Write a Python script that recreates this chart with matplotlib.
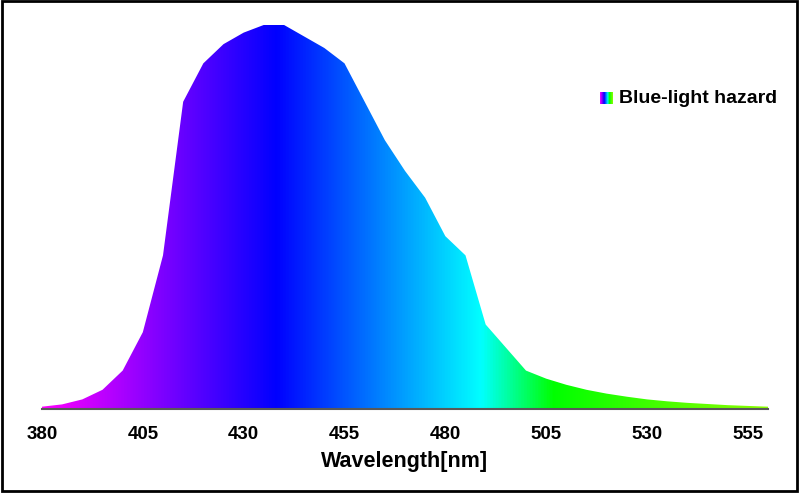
import numpy as np
import matplotlib.pyplot as plt
from matplotlib.colors import LinearSegmentedColormap
from matplotlib.patches import Rectangle

plt.rcParams['font.family'] = ['Liberation Sans', 'DejaVu Sans']

# blue-light hazard weighting B(lambda)
wavelength = [380, 385, 390, 395, 400, 405, 410, 415, 420, 425, 430, 435, 440,
              445, 450, 455, 460, 465, 470, 475, 480, 485, 490, 495, 500, 505,
              510, 515, 520, 525, 530, 535, 540, 545, 550, 555, 560]
hazard = [0.006, 0.012, 0.025, 0.05, 0.10, 0.20, 0.40, 0.80, 0.90, 0.95, 0.98,
          1.00, 1.00, 0.97, 0.94, 0.90, 0.80, 0.70, 0.62, 0.55, 0.45, 0.40,
          0.22, 0.16, 0.10, 0.079, 0.063, 0.050, 0.040, 0.032, 0.025, 0.020,
          0.016, 0.013, 0.010, 0.008, 0.006]
tick_labels = [380, 405, 430, 455, 480, 505, 530, 555]

# spectrum colours along the wavelength axis
spec = LinearSegmentedColormap.from_list('spec', [
    (0.0, (1.0, 0.0, 1.0)),
    ((438 - 380) / 180, (0.0, 0.0, 1.0)),
    ((489 - 380) / 180, (0.0, 1.0, 1.0)),
    ((507 - 380) / 180, (0.0, 1.0, 0.0)),
    (1.0, (0.55, 1.0, 0.0)),
])

fig = plt.figure(figsize=(8, 4.93), dpi=100)
ax = fig.add_axes([0.0525, 0.1704, 0.9075, 0.779])

xmin, xmax = wavelength[0], wavelength[-1]
poly = ax.fill_between(wavelength, hazard, 0, color='none', lw=0)
grad = np.linspace(0, 1, 512).reshape(1, -1)
im = ax.imshow(grad, cmap=spec, aspect='auto', extent=[xmin, xmax, 0, 1],
               origin='lower', interpolation='bilinear')
im.set_clip_path(poly.get_paths()[0], transform=ax.transData)

ax.set_xlim(xmin, xmax)
ax.set_ylim(0, 1)
ax.set_yticks([])
ax.set_xticks(tick_labels)
ax.set_xticks([380], minor=True)
ax.tick_params(axis='x', which='major', length=0, pad=12, labelsize=13.5)
ax.tick_params(axis='x', which='minor', length=5, width=1.2, color='#595959')
for lab in ax.get_xticklabels():
    lab.set_fontweight('bold')
for s in ['top', 'right', 'left']:
    ax.spines[s].set_visible(False)
ax.spines['bottom'].set_color('#595959')
ax.spines['bottom'].set_linewidth(1.5)
ax.set_xlabel('Wavelength[nm]', fontsize=15.5, fontweight='bold', labelpad=6)

# legend with gradient swatch
lax = fig.add_axes([0.75, 0.789, 0.01625, 0.0243])
lax.imshow(grad, cmap=spec, aspect='auto', interpolation='bilinear')
lax.axis('off')
fig.text(0.774, 0.801, 'Blue-light hazard', fontsize=14, fontweight='bold',
         va='center', ha='left')

fig.patches.append(Rectangle((0.002, 0.004), 0.994, 0.993, transform=fig.transFigure,
                             fill=False, edgecolor='black', lw=2))

fig.savefig('out.png', dpi=100)
